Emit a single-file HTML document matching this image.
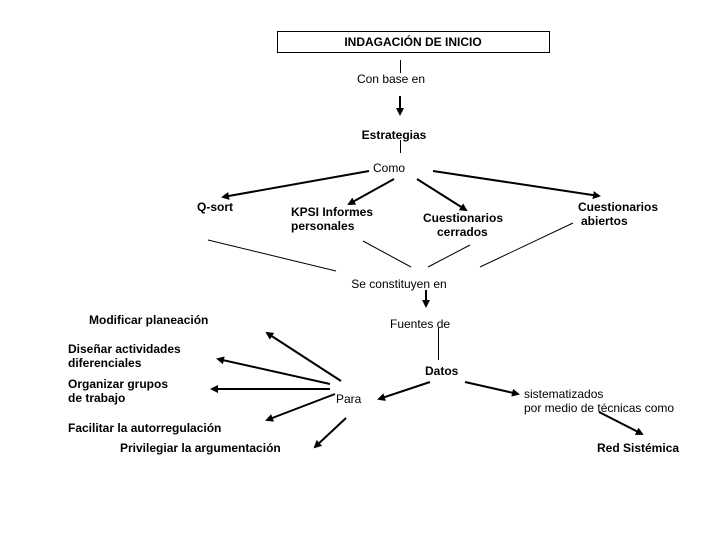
<!DOCTYPE html>
<html><head><meta charset="utf-8"><style>
html,body{margin:0;padding:0;background:#fff}
svg{display:block}
text{font-family:"Liberation Sans",Arial,sans-serif;font-size:12px;fill:#000}
.b{font-weight:bold}
</style></head><body>
<svg width="720" height="540" viewBox="0 0 720 540" xmlns="http://www.w3.org/2000/svg">
<defs>
<marker id="a" markerWidth="8" markerHeight="8" refX="6" refY="4" orient="auto" markerUnits="userSpaceOnUse">
<path d="M0,0 L8,4 L0,8 z" fill="#000"/></marker>
</defs>
<rect x="277.5" y="31.5" width="272" height="21" fill="#fff" stroke="#000"/>
<text x="413" y="46" text-anchor="middle" class="b">INDAGACIÓN DE INICIO</text>
<line x1="400.5" y1="60" x2="400.5" y2="73" stroke="#000"/>
<text x="391" y="83" text-anchor="middle">Con base en</text>
<line x1="400" y1="96" x2="400" y2="114" stroke="#000" stroke-width="2" marker-end="url(#a)"/>
<text x="394" y="139" text-anchor="middle" class="b">Estrategias</text>
<line x1="400.5" y1="140" x2="400.5" y2="153" stroke="#000"/>
<text x="389" y="172" text-anchor="middle">Como</text>
<g stroke="#000" stroke-width="2" marker-end="url(#a)">
<line x1="369" y1="171" x2="223" y2="197"/>
<line x1="394" y1="179" x2="349" y2="204"/>
<line x1="417" y1="179" x2="466" y2="210"/>
<line x1="433" y1="171" x2="599" y2="196"/>
</g>
<text x="197" y="211" class="b">Q-sort</text>
<text x="291" y="216" class="b">KPSI Informes</text>
<text x="291" y="230" class="b">personales</text>
<text x="423" y="222" class="b">Cuestionarios</text>
<text x="437" y="236" class="b">cerrados</text>
<text x="578" y="211" class="b">Cuestionarios</text>
<text x="581" y="225" class="b">abiertos</text>
<g stroke="#000" stroke-width="1">
<line x1="208" y1="240" x2="336" y2="271"/>
<line x1="363" y1="241" x2="411" y2="267"/>
<line x1="428" y1="267" x2="470" y2="245"/>
<line x1="480" y1="267" x2="573" y2="223"/>
</g>
<text x="399" y="288" text-anchor="middle">Se constituyen en</text>
<line x1="426" y1="290" x2="426" y2="306" stroke="#000" stroke-width="2" marker-end="url(#a)"/>
<text x="390" y="328">Fuentes de</text>
<line x1="438.5" y1="328" x2="438.5" y2="360" stroke="#000"/>
<text x="425" y="375" class="b">Datos</text>
<g stroke="#000" stroke-width="2" marker-end="url(#a)">
<line x1="430" y1="382" x2="379" y2="399"/>
<line x1="465" y1="382" x2="518" y2="394"/>
<line x1="599" y1="412" x2="642" y2="434"/>
<line x1="341" y1="381" x2="267" y2="333"/>
<line x1="330" y1="384" x2="218" y2="359"/>
<line x1="330" y1="389" x2="212" y2="389"/>
<line x1="335" y1="394" x2="267" y2="420"/>
<line x1="346" y1="418" x2="315" y2="447"/>
</g>
<text x="336" y="403">Para</text>
<text x="524" y="398">sistematizados</text>
<text x="524" y="412">por medio de técnicas como</text>
<text x="597" y="452" class="b">Red Sistémica</text>
<text x="89" y="324" class="b">Modificar planeación</text>
<text x="68" y="353" class="b">Diseñar actividades</text>
<text x="68" y="367" class="b">diferenciales</text>
<text x="68" y="388" class="b">Organizar grupos</text>
<text x="68" y="402" class="b">de trabajo</text>
<text x="68" y="432" class="b">Facilitar la autorregulación</text>
<text x="120" y="452" class="b">Privilegiar la argumentación</text>
</svg>
</body></html>
